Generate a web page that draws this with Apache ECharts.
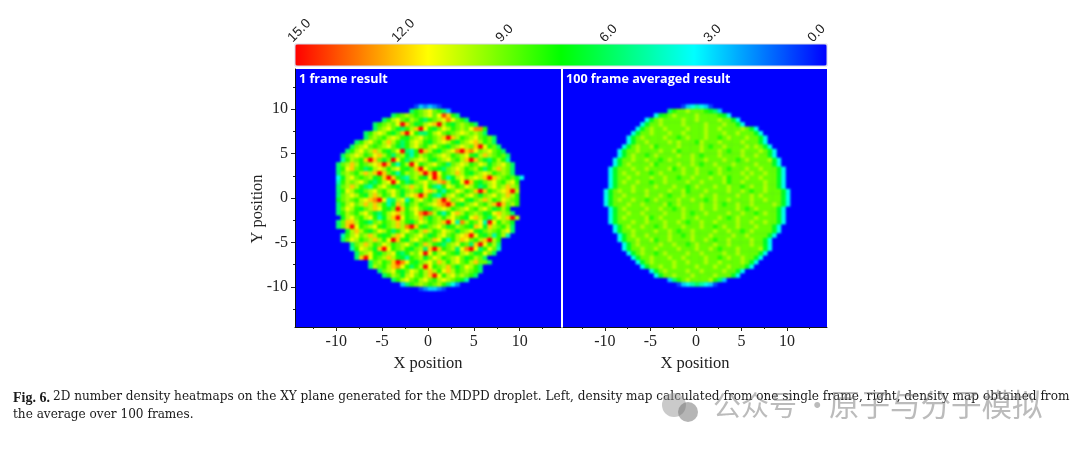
<!DOCTYPE html>
<html><head><meta charset="utf-8">
<style>
html,body{margin:0;padding:0;background:#fff}
.layer{position:absolute;left:0;top:0;width:1080px;height:450px}
#heat{filter:blur(1.3px);clip-path:path('M295 69h266v258h-266z M563 69h264v258h-264z')}
#top{filter:blur(0.3px)}
</style>
<script src="https://cdn.jsdelivr.net/npm/echarts@6/dist/echarts.min.js"></script>
</head><body><div id="heat" class="layer"></div><div id="top" class="layer"></div>
<script>
// Density, one hex digit (0-15) per cell, top row first. Missing cells are 0.
const frame1Rows = [
"","","","","","","","",
"00000000000000000000000000132321",
"0000000000000000000000000689ab9863",
"000000000000000000000689a989ab9bec86",
"000000000000000000068ab98a97689abdb986",
"00000000000000000689a9bfc978abcfa879a986",
"0000000000000000069ab9768acfb879ba89a9bdd8",
"00000000000000068aba879cfb8668ab989aba9a96",
"00000000000000069a98aba879ab989acfca89ab9896",
"000000000000068ab98aca868aba879aba879abca896",
"00000000000069ab989ab9768ab98ab9879aba9cfb896",
"0000000000068ab9aca879bf658fca879abdfcdb9ab986",
"000000000069aba89bca869a758a989aba89ab87aca9896",
"000000000058a98cfc979fb869aba879ab98acfc9768a85",
"00000000069aca89abcfc758afb89ab9869aba89ba79ab96",
"00000000068bc9867aba8ab879cfb98769aba89a868aca96",
"00000000069a98acacfc9758a9acfcf" + "b89aca879aba89a96",
"00000000047ab989a78cfc8659a87bfc857ab9abacfca98974",
"00000000058a9ab9768abfb8679ab9acda78bfc879ab98ab8",
"00000000069aca8658ab9879aca9b8658ba89ba867ab9aca9",
"00000000068ba879ab98ab979a98bca7589ba89cfc89abcfa",
"00000000069aba87aca89b97abcfc8658ab98ab979ab9aca8",
"00000000079a98abcdfb56ab58ab98acfc9ab879aca89ba98",
"00000000068ab9acaca857ca79a89abcdfc879ab98acfc9a8",
"00000000069ba879acb879fc8ab9879aba89ab98ab978a8",
"00000000068a98ab9768abca89bdfda758bca89a978bca96",
"00000000007ab98ab857acfb89ac979a8ab987bca869bacfa",
"00000000069cca8769a89aca879ba89acfb5da89b5fb8a97",
"00000000069cfb89ab879acadfc879ab978a987cb7ca98a6",
"000000000007aca879ba868ab98aca89ba979ab879a98ab6",
"000000000058ab9aca878acb89ab978ab98abcfb87958a5",
"000000000069ba89aca8bfc87ab989cb758acb98acfa8",
"00000000000069aca89ba89ab979ca8769ab896cfb8a6",
"00000000000058ba97cfb89a879a6cfc89a6bdfb68b95",
"000000000000069ab879ab768a9bfb8ab987ab978b96",
"00000000000006cfb89aca87589a79ba89ab978a96",
"000000000000000069a89cfdb879ab9ca8ab98ac996",
"00000000000000006a98acdb868afb89ac979ba86",
"00000000000000000069ab879ba8aca8bca89a986",
"000000000000000000068a97ab98acfb8ab9a986",
"00000000000000000000068ab98ab98aba9875",
"000000000000000000000003689a989a8642",
"000000000000000000000000000123321",
"","","","","","","",""
];
const frame100Rows = [
"","","","","","","","",
"000000000000000000000000001345431",
"000000000000000000000006899a9998763",
"000000000000000000004789a9999a9999874",
"000000000000000000479a9999a99a9999a9974",
"000000000000000004799a9999a9999a999a9974",
"0000000000000000479a99a9999a999a99a9999a974",
"0000000000000004799a999a99a9999a999a99a99974",
"00000000000000479a9999a9989a999a9989a999a9974",
"000000000000004799a9999a9a9998a999a9999a99974",
"0000000000000479a99a89999a9999a9899a9999a9a974",
"0000000000004799a9999a99a89999a999a9899a999a974",
"000000000000479a9989a9999a99a98999a9999a99a9974",
"000000000004799a99a9989a9999a99a999a9989a9999a74",
"00000000000479a9999a89999a99a9899a999a9999a99974",
"000000000047999a99a9999a89a99a9999a98999a99a99974",
"0000000000479a99a9989a9999a99a9989a9999a9a99a9974",
"00000000004799a9999a99a99899a999a99a8999a99a99974",
"0000000000479a99a99899a9999a99a9999a899a9999a9974",
"000000000047999a9999a999a9989a999a99a9989a99a9974",
"000000000479a99a99a9999a99a8999a9999a99a9899a99974",
"0000000004799a9999a99a9899a999a99a9999a99a9a999974",
"000000000479a99a9989a9999a99a9989a99a9999a99a99974",
"00000000047999a99a9999a89a9999a99a9899a99a9999a974",
"0000000000479a9999a99a9989a999a99a9999a989a999974",
"00000000004799a99a9999a999a9899a9999a99a9989a9974",
"0000000000479a9999a89a9999a99a9999a989a999a999974",
"000000000047999a99a999a99a9899a99a9999a99a99a9974",
"00000000000479a99a9989a999a999a9989a99a999a99974",
"000000000004799a9999a99a9899a9999a99a9989a999974",
"000000000000479a99a9999a9989a999a9999a99a999974",
"0000000000004799a99a899a9999a99a9899a9999a9974",
"0000000000000479a9999a99a9989a999a99a9999a9974",
"00000000000004799a99a9999a999a99a98999a9999a74",
"00000000000000479a9989a9999a99a9999a99a999974",
"0000000000000004799a999a99a9999a9989a99a9974",
"0000000000000000479a9999a99a999a99a9999a974",
"000000000000000004799a99a9999a999a99a99974",
"0000000000000000000479a9999a99a9999a9974",
"000000000000000000004799a999a9999a99974",
"000000000000000000000003689a9999a863",
"0000000000000000000000000134565431",
"","","","","","","",""
];
const colorbarTicks = [15, 12, 9, 6, 3, 0];
const majorTicks = [-10, -5, 0, 5, 10];
const minorTicks = [-12.5, -7.5, -2.5, 2.5, 7.5, 12.5];
const colorStops = ['#0000ff', '#00ffff', '#00ff00', '#ffff00', '#ff0000'];

const cols = [];
for (let i = 0; i < 58; i++) cols.push(i);
function cells(rows) {
  const out = [];
  for (let r = 0; r < 58; r++)
    for (let c = 0; c < 58; c++)
      out.push([c, r, parseInt((rows[r] || '')[c] || '0', 16)]);
  return out;
}
const serif = '"Liberation Serif"';
const tickLabel = { fontFamily: serif, fontSize: 16, color: '#222', margin: 7 };
const axisLine = { show: true, onZero: false, lineStyle: { color: '#111', width: 1 } };
function xMajor(gridIndex, min, max) {
  return { type: 'value', gridIndex, position: 'bottom', min, max, splitLine: { show: false },
    axisLine, axisTick: { show: true, customValues: majorTicks, length: 4, lineStyle: { color: '#222' } },
    axisLabel: Object.assign({ customValues: majorTicks }, tickLabel),
    name: 'X position', nameLocation: 'middle', nameGap: 26,
    nameTextStyle: { fontFamily: serif, fontSize: 16.5, color: '#222' } };
}
function xMinor(gridIndex, min, max) {
  return { type: 'value', gridIndex, position: 'bottom', min, max, splitLine: { show: false },
    axisLine: { show: false, onZero: false }, axisLabel: { show: false },
    axisTick: { show: true, customValues: minorTicks, length: 2, lineStyle: { color: '#222' } } };
}
const hiddenX = g => ({ type: 'category', gridIndex: g, data: cols, show: false });
const hiddenY = g => ({ type: 'category', gridIndex: g, data: cols, show: false, inverse: true });

const heatOption = {
  animation: false,
  backgroundColor: '#0000ff',
  grid: [
    { left: 295, top: 69, width: 266, height: 258 },
    { left: 563, top: 69, width: 264, height: 258 }
  ],
  xAxis: [hiddenX(0), hiddenX(1)],
  yAxis: [hiddenY(0), hiddenY(1)],
  visualMap: { type: 'continuous', show: false, min: 0, max: 15, seriesIndex: [0, 1], dimension: 2,
    inRange: { color: colorStops } },
  series: [
    { type: 'heatmap', xAxisIndex: 0, yAxisIndex: 0, data: cells(frame1Rows), progressive: 0, itemStyle: { borderWidth: 0 } },
    { type: 'heatmap', xAxisIndex: 1, yAxisIndex: 1, data: cells(frame100Rows), progressive: 0, itemStyle: { borderWidth: 0 } }
  ]
};

const topOption = {
  animation: false,
  backgroundColor: 'transparent',
  grid: [
    { left: 295, top: 69, width: 266, height: 258 },
    { left: 563, top: 69, width: 264, height: 258 },
    { left: 290, top: 43, width: 520, height: 24 }
  ],
  xAxis: [
    xMajor(0, -14.5, 14.5), xMajor(1, -14.6, 14.4),
    xMinor(0, -14.5, 14.5), xMinor(1, -14.6, 14.4),
    { type: 'value', gridIndex: 2, position: 'top', inverse: true, min: 0, max: 15, interval: 3,
      axisLine: { show: false, onZero: false }, axisTick: { show: false }, splitLine: { show: false },
      axisLabel: { rotate: -45, margin: 3, fontFamily: '"Liberation Sans"', fontSize: 13.5, color: '#222',
        customValues: colorbarTicks, formatter: v => v.toFixed(1) } }
  ],
  yAxis: [
    { type: 'value', gridIndex: 0, position: 'left', min: -14.5, max: 14.5, splitLine: { show: false },
      axisLine, axisTick: { show: true, customValues: majorTicks, length: 4, lineStyle: { color: '#222' } },
      axisLabel: Object.assign({ customValues: majorTicks }, tickLabel) },
    { type: 'value', gridIndex: 0, position: 'left', min: -14.5, max: 14.5, splitLine: { show: false },
      axisLine: { show: false, onZero: false }, axisLabel: { show: false },
      axisTick: { show: true, customValues: minorTicks, length: 2, lineStyle: { color: '#222' } } },
    { type: 'value', gridIndex: 1, position: 'left', min: -14.5, max: 14.5, show: false },
    { type: 'value', gridIndex: 2, min: 0, max: 1, show: false }
  ],
  visualMap: {
    type: 'continuous', show: true, min: 0, max: 15, seriesIndex: [], dimension: 2,
    orient: 'horizontal', inverse: true, left: 295, top: 44, padding: 0,
    itemWidth: 22, itemHeight: 532, calculable: false, showLabel: false, text: null,
    inRange: { color: colorStops }
  },
  graphic: [
    { type: 'rect', shape: { x: 295, y: 44, width: 532, height: 22 }, z: 50,
      style: { fill: 'none', stroke: '#d6d6e6', lineWidth: 1 } },
    { type: 'text', x: 299, y: 73, z: 50, style: { text: '1 frame result', fill: '#fff',
        font: 'bold 12.6px "Open Sans"' } },
    { type: 'text', x: 566, y: 73, z: 50, style: { text: '100 frame averaged result', fill: '#fff',
        font: 'bold 12.6px "Open Sans"' } },
    { type: 'text', x: 258, y: 209, rotation: Math.PI / 2, z: 50, style: { text: 'Y position', fill: '#222',
        font: '16.5px "Liberation Serif"', align: 'center', verticalAlign: 'middle' } },
    { type: 'text', x: 13, y: 391, z: 50, style: { text: 'Fig. 6.', fill: '#1a1a1a',
        font: 'bold 14px "Liberation Serif"' } },
    { type: 'text', x: 53, y: 391, z: 50, style: { fill: '#1a1a1a', font: '12.1px "DejaVu Serif"',
        text: '2D number density heatmaps on the XY plane generated for the MDPD droplet. Left, density map calculated from one single frame, right, density map obtained from' } },
    { type: 'text', x: 13, y: 409, z: 50, style: { text: 'the average over 100 frames.', fill: '#1a1a1a',
        font: '12.1px "DejaVu Serif"' } },
    { type: 'circle', shape: { cx: 674, cy: 405, r: 12 }, z: 51, style: { fill: 'rgba(150,150,150,0.5)' } },
    { type: 'circle', shape: { cx: 688, cy: 412, r: 10 }, z: 51, style: { fill: 'rgba(120,120,120,0.55)' } },
    { type: 'text', x: 713, y: 391, z: 51, style: { text: '公众号 ·', fill: 'rgba(120,120,120,0.5)',
        font: '28px "Noto Sans CJK SC"' } },
    { type: 'text', x: 829, y: 389, z: 51, style: { text: '原子与分子模拟', fill: 'rgba(120,120,120,0.5)',
        font: '30.5px "Noto Sans CJK SC"' } }
  ]
};
echarts.init(document.getElementById('heat')).setOption(heatOption);
echarts.init(document.getElementById('top')).setOption(topOption);
</script></body></html>
